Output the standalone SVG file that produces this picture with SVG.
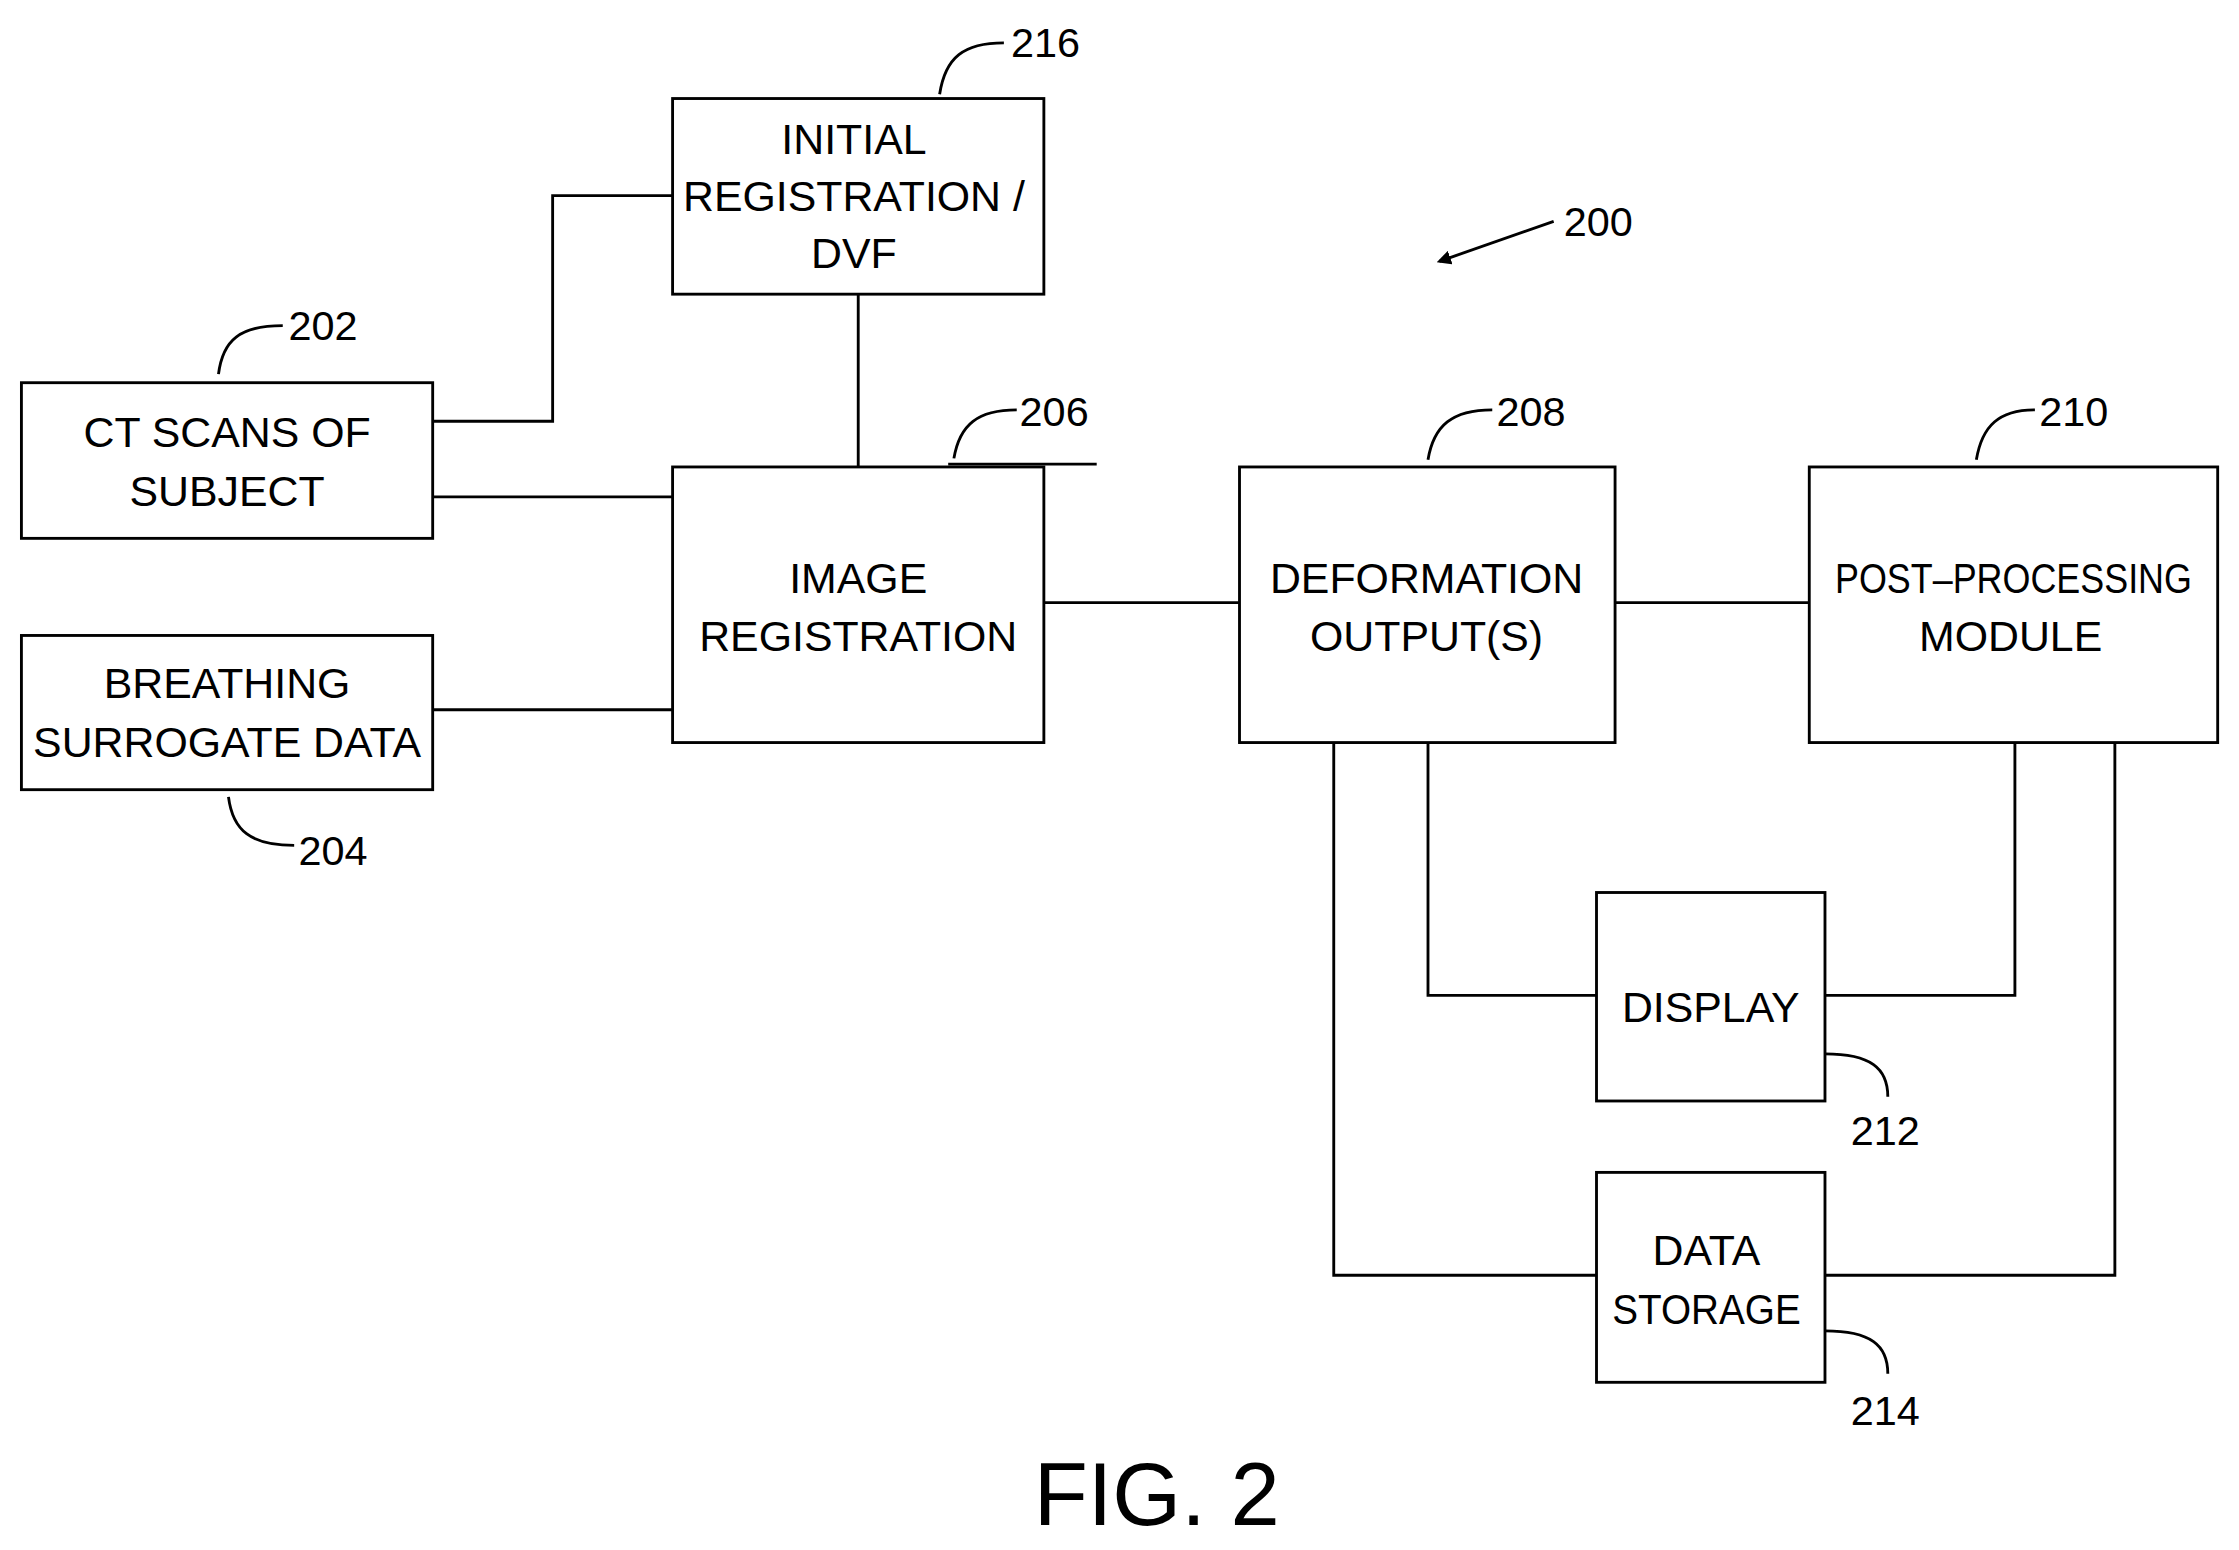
<svg xmlns="http://www.w3.org/2000/svg" width="2239" height="1550" viewBox="0 0 2239 1550">
<style>
.b{fill:#fff;stroke:#000;stroke-width:2}
.l{fill:none;stroke:#000;stroke-width:2}
text{font-family:"Liberation Sans Narrow","Liberation Sans",Arial,sans-serif;font-size:30px;text-anchor:middle;fill:#000}
.n{font-size:29px;text-anchor:start}
</style>
<defs><marker id="a" markerWidth="10" markerHeight="10" refX="8" refY="5" orient="auto" markerUnits="userSpaceOnUse"><path d="M0,0 L10,5 L0,10 z" fill="#000"/></marker></defs>
<rect width="2239" height="1550" fill="#fff"/>
<g transform="scale(1.428)">
<g id="connectors">
<polyline class="l" points="303,295 387,295 387,137 471,137"/>
<line class="l" x1="303" y1="348" x2="471" y2="348"/>
<line class="l" x1="303" y1="497" x2="471" y2="497"/>
<line class="l" x1="601" y1="206" x2="601" y2="327"/>
<line class="l" x1="731" y1="422" x2="868" y2="422"/>
<line class="l" x1="1131" y1="422" x2="1267" y2="422"/>
<polyline class="l" points="1000,520 1000,697 1118,697"/>
<polyline class="l" points="934,520 934,893 1118,893"/>
<polyline class="l" points="1411,520 1411,697 1278,697"/>
<polyline class="l" points="1481,520 1481,893 1278,893"/>
</g>
<g id="n216"><rect class="b" x="471" y="69" width="260" height="137"/><text x="598" y="108">INITIAL</text><text x="598" y="148">REGISTRATION /</text><text x="598" y="188">DVF</text>
<path class="l" d="M658,66 C662,40 675,30 703,30"/><text class="n" x="708" y="40">216</text></g>
<g id="n202"><rect class="b" x="15" y="268" width="288" height="109"/><text x="159" y="313">CT SCANS OF</text><text x="159" y="354">SUBJECT</text>
<path class="l" d="M153,262 C156,238 168,228 198,228"/><text class="n" x="202" y="238">202</text></g>
<g id="n204"><rect class="b" x="15" y="445" width="288" height="108"/><text x="159" y="489">BREATHING</text><text x="159" y="530">SURROGATE DATA</text>
<path class="l" d="M160,558 C163,582 176,592 206,592"/><text class="n" x="209" y="606">204</text></g>
<g id="n206"><rect class="b" x="471" y="327" width="260" height="193"/><text x="601" y="415">IMAGE</text><text x="601" y="456">REGISTRATION</text>
<line class="l" x1="664" y1="325" x2="768" y2="325"/><path class="l" d="M668,321 C672,297 685,287 712,287"/><text class="n" x="714" y="298">206</text></g>
<g id="n208"><rect class="b" x="868" y="327" width="263" height="193"/><text x="999" y="415">DEFORMATION</text><text x="999" y="456">OUTPUT(S)</text>
<path class="l" d="M1000,322 C1004,298 1017,287 1045,287"/><text class="n" x="1048" y="298">208</text></g>
<g id="n210"><rect class="b" x="1267" y="327" width="286" height="193"/><text x="1410" y="415" textLength="250" lengthAdjust="spacingAndGlyphs">POST–PROCESSING</text><text x="1408" y="456">MODULE</text>
<path class="l" d="M1384,322 C1388,298 1400,287 1425,287"/><text class="n" x="1428" y="298">210</text></g>
<g id="n212"><rect class="b" x="1118" y="625" width="160" height="146"/><text x="1198" y="716">DISPLAY</text>
<path class="l" d="M1278,738 C1310,738 1322,748 1322,768"/><text class="n" x="1296" y="802">212</text></g>
<g id="n214"><rect class="b" x="1118" y="821" width="160" height="147"/><text x="1195" y="886">DATA</text><text x="1195" y="927" textLength="132" lengthAdjust="spacingAndGlyphs">STORAGE</text>
<path class="l" d="M1278,932 C1310,932 1322,942 1322,962"/><text class="n" x="1296" y="998">214</text></g>
<g id="n200"><line class="l" x1="1088" y1="155" x2="1008" y2="183" marker-end="url(#a)"/><text class="n" x="1095" y="165">200</text></g>
<text x="810" y="1068" style="font-size:62px">FIG. 2</text>
</g>
</svg>
